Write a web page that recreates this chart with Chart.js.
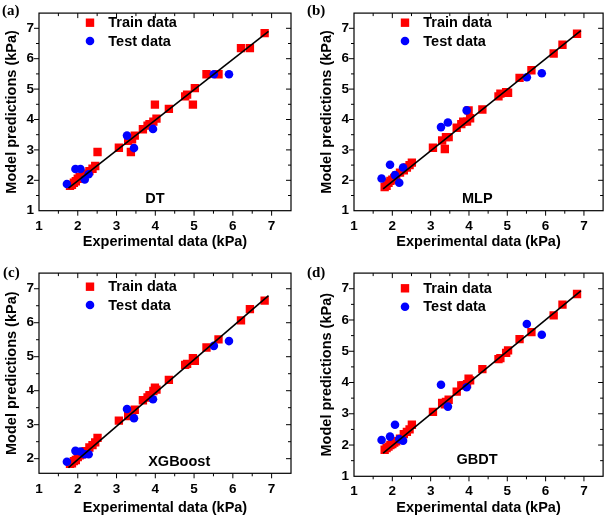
<!DOCTYPE html>
<html><head><meta charset="utf-8">
<script src="https://cdn.jsdelivr.net/npm/chart.js@4.4.1/dist/chart.umd.min.js"></script>
<style>
html,body{margin:0;padding:0;background:#fff;}
#wrap{position:relative;width:609px;height:519px;overflow:hidden;}
canvas{position:absolute;}
</style></head><body><div id="wrap">
<canvas id="ca" width="305" height="260" style="left:0;top:0"></canvas>
<canvas id="cb" width="304" height="260" style="left:305px;top:0"></canvas>
<canvas id="cc" width="305" height="259" style="left:0;top:260px"></canvas>
<canvas id="cd" width="304" height="259" style="left:305px;top:260px"></canvas>
</div>
<script>
// ---- data ----
const xTicks = [1, 2, 3, 4, 5, 6, 7];
const yTicksFull = [1, 2, 3, 4, 5, 6, 7];
const yTicksC = [2, 3, 4, 5, 6, 7];

const trainX = [1.80,1.85,1.90,1.95,2.00,2.05,2.10,2.20,2.30,2.38,2.45,2.51,3.06,3.30,3.37,3.40,3.47,3.68,3.80,3.85,3.95,3.99,4.03,4.35,4.77,4.82,4.97,5.02,5.32,5.63,6.21,6.44,6.82];
const trainDT   = [1.82,1.85,1.92,1.97,2.05,2.10,2.12,2.22,2.30,2.38,2.47,2.93,3.07,3.30,2.93,3.35,3.47,3.68,3.80,3.85,3.93,4.49,4.03,4.35,4.76,4.82,4.49,5.03,5.49,5.49,6.35,6.35,6.84];
const trainMLP  = [1.78,1.82,1.92,1.98,2.02,2.08,2.15,2.25,2.33,2.42,2.50,2.58,3.07,3.31,3.03,3.42,3.42,3.73,3.85,3.93,3.93,4.30,4.04,4.33,4.76,4.85,4.90,4.88,5.37,5.62,6.17,6.46,6.82];
const trainXGB  = [1.85,1.86,1.93,1.96,2.05,2.10,2.13,2.22,2.33,2.40,2.48,2.61,3.12,3.25,3.30,3.38,3.44,3.72,3.80,3.87,3.99,4.09,4.03,4.32,4.76,4.79,4.96,4.88,5.27,5.51,6.07,6.40,6.65];
const trainGBDT = [1.85,1.90,1.95,2.00,2.03,2.08,2.12,2.20,2.35,2.42,2.50,2.65,3.06,3.35,3.30,3.38,3.45,3.71,3.91,3.91,3.95,4.12,4.07,4.43,4.75,4.78,4.95,5.03,5.39,5.61,6.15,6.49,6.83];

const testX = [1.72,1.94,2.07,2.18,2.28,3.27,3.45,3.94,5.51,5.90];
const testDT   = [1.88,2.37,2.37,2.03,2.20,3.47,3.06,3.69,5.49,5.49];
const testMLP  = [2.06,2.51,2.17,1.92,2.42,3.75,3.90,4.30,5.39,5.52];
const testXGB  = [1.91,2.23,2.21,2.13,2.13,3.46,3.19,3.75,5.32,5.46];
const testGBDT = [2.16,2.27,2.65,2.19,2.14,3.93,3.23,3.85,5.87,5.53];

const fitX = [1.76, 6.92];
const fitDT   = [1.74, 6.90];
const fitMLP  = [1.72, 6.92];
const fitXGB  = [1.74, 6.80];
const fitGBDT = [1.74, 6.93];

const seriesNames = ['Train data', 'Test data'];
const panelLetters = ['(a)', '(b)', '(c)', '(d)'];
const modelNames = ['DT', 'MLP', 'XGBoost', 'GBDT'];
const xTitle = 'Experimental data (kPa)';
const yTitle = 'Model predictions (kPa)';

// ---- layout / style ----
const SANS = '"Liberation Sans", Arial, sans-serif';
const SERIF = '"Liberation Serif", "Times New Roman", serif';
const RED = '#ff0000', BLUE = '#0000ff';

const panels = [
  {id:'ca', letter:panelLetters[0], model:modelNames[0], train:trainDT, test:testDT, fit:fitDT,
   yMin:1, yMax:7.5, yTicks:yTicksFull, L:39, R:14, T:2.3, XH:49.3,
   xTitlePad:9.6, yTitlePad:3, xTickPad:7, yTickPad:5,
   leg:{mx:90, y1:22.7, y2:41}, lab:{x:155, y:199.3}, let:{x:2, y:11}},
  {id:'cb', letter:panelLetters[1], model:modelNames[1], train:trainMLP, test:testMLP, fit:fitMLP,
   yMin:1, yMax:7.5, yTicks:yTicksFull, L:49, R:2.8, T:2.3, XH:49.3,
   xTitlePad:9.6, yTitlePad:13, xTickPad:7, yTickPad:5,
   leg:{mx:100, y1:22.7, y2:41}, lab:{x:172.3, y:199.3}, let:{x:2, y:11}},
  {id:'cc', letter:panelLetters[2], model:modelNames[2], train:trainXGB, test:testXGB, fit:fitXGB,
   yMin:1.57, yMax:7.46, yTicks:yTicksC, L:39, R:14, T:6.7, XH:45.7,
   xTitlePad:2, yTitlePad:3, xTickPad:8, yTickPad:5,
   leg:{mx:90, y1:26.7, y2:45}, lab:{x:179.2, y:201.7}, let:{x:3, y:13.3}},
  {id:'cd', letter:panelLetters[3], model:modelNames[3], train:trainGBDT, test:testGBDT, fit:fitGBDT,
   yMin:1, yMax:7.5, yTicks:yTicksFull, L:49, R:3, T:5.5, XH:42.7,
   xTitlePad:2, yTitlePad:13, xTickPad:7, yTickPad:5,
   leg:{mx:100, y1:28.3, y2:46.7}, lab:{x:172, y:200}, let:{x:2, y:13.3}}
];

const decorPlugin = {
  id: 'decor',
  afterDraw(chart) {
    const p = chart.options.plugins.decor;
    const ctx = chart.ctx, a = chart.chartArea;
    const xs = chart.scales.x, ys = chart.scales.y;
    ctx.save();
    ctx.strokeStyle = '#000';
    ctx.lineWidth = 1.2;
    ctx.strokeRect(a.left, a.top, a.right - a.left, a.bottom - a.top);
    ctx.lineWidth = 1;
    const line = (x1, y1, x2, y2) => { ctx.beginPath(); ctx.moveTo(x1, y1); ctx.lineTo(x2, y2); ctx.stroke(); };
    for (let k = Math.ceil(xs.min * 2); k / 2 <= xs.max + 1e-9; k++) {
      const v = k / 2; const px = xs.getPixelForValue(v);
      if (px < a.left + 0.5 || px > a.right - 0.5) continue;
      const len = (k % 2 === 0) ? 5 : 3;
      line(px, a.bottom, px, a.bottom + len);
      line(px, a.top, px, a.top + len);
    }
    for (let k = Math.ceil(ys.min * 2); k / 2 <= ys.max + 1e-9; k++) {
      const v = k / 2; const py = ys.getPixelForValue(v);
      if (py < a.top + 0.5 || py > a.bottom - 0.5) continue;
      const len = (k % 2 === 0) ? 5 : 3;
      line(a.left, py, a.left - len, py);
      line(a.right, py, a.right - len, py);
    }
    // legend
    const ds = chart.data.datasets;
    const tr = ds.find(d => d.label === seriesNames[0]);
    const te = ds.find(d => d.label === seriesNames[1]);
    ctx.fillStyle = tr.backgroundColor;
    ctx.fillRect(p.leg.mx - 4.2, p.leg.y1 - 4.2, 8.4, 8.4);
    ctx.fillStyle = te.backgroundColor;
    ctx.beginPath(); ctx.arc(p.leg.mx, p.leg.y2, 4.3, 0, Math.PI * 2); ctx.fill();
    ctx.fillStyle = '#000';
    ctx.textBaseline = 'middle';
    ctx.textAlign = 'left';
    ctx.font = 'bold 14.5px ' + SANS;
    ctx.fillText(tr.label, p.leg.mx + 18.3, p.leg.y1 + 0.5);
    ctx.fillText(te.label, p.leg.mx + 18.3, p.leg.y2 + 0.5);
    // model label
    ctx.textAlign = 'center';
    ctx.fillText(p.model, p.lab.x, p.lab.y);
    // panel letter
    ctx.textAlign = 'left';
    ctx.font = 'bold 15px ' + SERIF;
    ctx.fillText(p.letter, p.let.x, p.let.y);
    ctx.restore();
  }
};

panels.forEach(p => {
  const ctx = document.getElementById(p.id).getContext('2d');
  new Chart(ctx, {
    type: 'scatter',
    data: {
      datasets: [
        {type: 'line', label: 'fit', data: fitX.map((x, i) => ({x, y: p.fit[i]})),
         borderColor: '#000', borderWidth: 1.6, pointRadius: 0, fill: false, order: 0},
        {label: seriesNames[1], data: testX.map((x, i) => ({x, y: p.test[i]})),
         pointStyle: 'circle', pointRadius: 4.3, backgroundColor: BLUE, borderColor: BLUE, borderWidth: 0, order: 1},
        {label: seriesNames[0], data: trainX.map((x, i) => ({x, y: p.train[i]})),
         pointStyle: 'rect', pointRadius: 5.9, backgroundColor: RED, borderColor: RED, borderWidth: 0, order: 2}
      ]
    },
    options: {
      responsive: false, animation: false, devicePixelRatio: 1,
      layout: {padding: {left: 0, top: p.T, right: p.R, bottom: 0}},
      plugins: {legend: {display: false}, tooltip: {enabled: false}, decor: p},
      scales: {
        x: {type: 'linear', position: 'bottom', min: 1, max: 7.5,
            afterBuildTicks: s => { s.ticks = xTicks.map(v => ({value: v})); },
            afterFit: s => { s.height = p.XH; },
            grid: {display: false, drawTicks: false}, border: {display: false},
            ticks: {color: '#000', padding: p.xTickPad, maxRotation: 0, autoSkip: false,
                    font: {family: SANS, size: 13.5, weight: 'bold'}},
            title: {display: true, text: xTitle, color: '#000', padding: {top: 0, bottom: p.xTitlePad},
                    font: {family: SANS, size: 14.5, weight: 'bold', lineHeight: 1.2}}},
        y: {type: 'linear', position: 'left', min: p.yMin, max: p.yMax,
            afterBuildTicks: s => { s.ticks = p.yTicks.map(v => ({value: v})); },
            afterFit: s => { s.width = p.L; },
            grid: {display: false, drawTicks: false}, border: {display: false},
            ticks: {color: '#000', padding: p.yTickPad, autoSkip: false,
                    font: {family: SANS, size: 13.5, weight: 'bold'}},
            title: {display: true, text: yTitle, color: '#000', padding: {top: p.yTitlePad, bottom: 0},
                    font: {family: SANS, size: 14.5, weight: 'bold', lineHeight: 1.2}}}
      }
    },
    plugins: [decorPlugin]
  });
});
</script></body></html>
